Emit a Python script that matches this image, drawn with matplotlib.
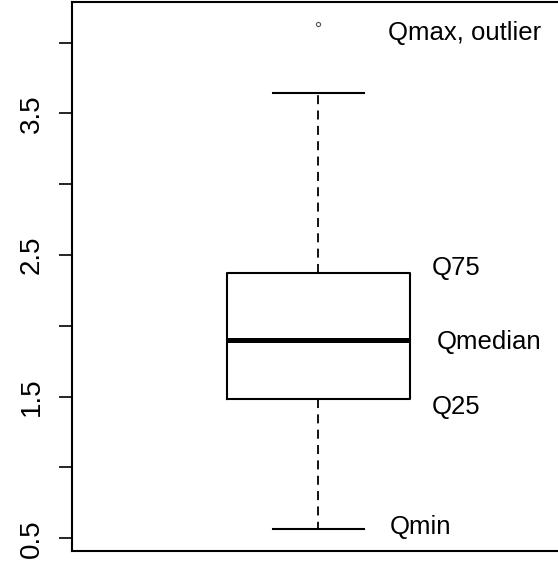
import matplotlib
matplotlib.use("Agg")
import matplotlib.pyplot as plt

# ---- data ----
q_min = 0.566
q25 = 1.484
q_median = 1.90
q75 = 2.376
whisker_hi = 3.643
outliers = [4.13]
tick_values = [0.5, 1.0, 1.5, 2.0, 2.5, 3.0, 3.5, 4.0]
tick_labels = ["0.5", "", "1.5", "", "2.5", "", "3.5", ""]
annot_labels = ["Qmax, outlier", "Q75", "Qmedian", "Q25", "Qmin"]

plt.rcParams['font.family'] = ['Liberation Sans', 'DejaVu Sans']

W, H = 558, 567
fig = plt.figure(figsize=(W / 100, H / 100), dpi=100)
ax = fig.add_axes([71.5 / W, 16 / H, (565.5 - 71.5) / W, (551 - 2) / H])

stats = [dict(med=q_median, q1=q25, q3=q75, whislo=q_min, whishi=whisker_hi,
              fliers=outliers)]
ax.bxp(stats, positions=[1], widths=0.4, showfliers=True,
       boxprops=dict(color='black', linewidth=1.5),
       medianprops=dict(color='black', linewidth=3.6, solid_capstyle='butt'),
       whiskerprops=dict(color='black', linewidth=1.3, linestyle=(0, (5, 3.5))),
       capprops=dict(color='black', linewidth=1.5),
       flierprops=dict(marker='o', markersize=3, markerfacecolor='none',
                       markeredgecolor='#555555', markeredgewidth=0.8))
# caps narrower than box
for cap in ax.lines:
    pass

ax.set_xlim(0.46, 1.54)
ax.set_ylim(0.41, 4.287)

ax.set_xticks([])
ax.set_yticks(tick_values)
ax.set_yticklabels(tick_labels, rotation=90, va='center', fontsize=20)
ax.tick_params(axis='y', length=9.5, width=1.2, pad=10)

for s in ['left', 'top', 'bottom']:
    ax.spines[s].set_linewidth(1.5)
ax.spines['right'].set_visible(False)

fs = 18.5
ax.text(1.152, outliers[0] - 0.06, annot_labels[0], fontsize=fs, va='center', ha='left')
ax.text(1.248, q75 + 0.033, annot_labels[1], fontsize=fs, va='center', ha='left')
ax.text(1.259, q_median - 0.014, annot_labels[2], fontsize=fs, va='center', ha='left')
ax.text(1.248, q25 - 0.057, annot_labels[3], fontsize=fs, va='center', ha='left')
ax.text(1.156, q_min + 0.014, annot_labels[4], fontsize=fs, va='center', ha='left')

fig.savefig("out.png", dpi=100)
